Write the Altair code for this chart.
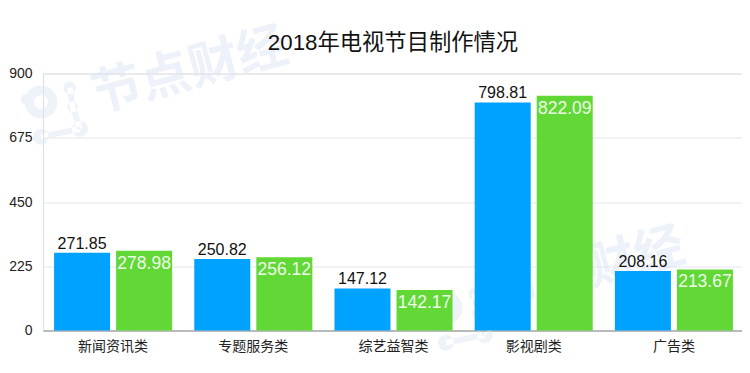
import altair as alt
import pandas as pd

categories = ["新闻资讯类", "专题服务类", "综艺益智类", "影视剧类", "广告类"]
blue_values = [271.85, 250.82, 147.12, 798.81, 208.16]
green_values = [278.98, 256.12, 142.17, 822.09, 213.67]
y_ticks = [0, 225, 450, 675, 900]
title_text = "2018年电视节目制作情况"
watermark_text = "节点财经"

FONT = "Liberation Sans, Noto Sans CJK SC"
rows = [{"cat": c, "s": "a", "v": v} for c, v in zip(categories, blue_values)] + \
       [{"cat": c, "s": "b", "v": v} for c, v in zip(categories, green_values)]
df = pd.DataFrame(rows)


def circ(cx, cy, r, hole=False):
    sweep = 0 if hole else 1
    return (f"M{cx - r:.3f},{cy:.3f}a{r:.3f},{r:.3f} 0 1,{sweep} {2 * r:.3f},0"
            f"a{r:.3f},{r:.3f} 0 1,{sweep} {-2 * r:.3f},0Z")


def link(x1, y1, x2, y2, w=0.09):
    dx, dy = x2 - x1, y2 - y1
    n = (dx * dx + dy * dy) ** 0.5
    px, py = -dy / n * w, dx / n * w
    return (f"M{x1 + px:.3f},{y1 + py:.3f}L{x2 + px:.3f},{y2 + py:.3f}"
            f"L{x2 - px:.3f},{y2 - py:.3f}L{x1 - px:.3f},{y1 - py:.3f}Z")


logo_path = " ".join([
    circ(-0.38, -0.3, 0.52), circ(-0.38, -0.3, 0.22, hole=True),
    circ(0.53, -0.75, 0.2), circ(0.62, -0.15, 0.17), circ(0.85, 0.55, 0.25),
    circ(-0.38, 0.8, 0.25), circ(-0.85, -0.38, 0.17),
    link(0.53, -0.75, 0.62, -0.15), link(0.62, -0.15, 0.85, 0.55), link(0.85, 0.55, -0.38, 0.8),
])

x = alt.X("cat:N", sort=categories, title=None,
          scale=alt.Scale(paddingInner=0.158, paddingOuter=0.079, round=False, range=[0, 701]),
          axis=alt.Axis(labelAngle=0, labelFontSize=14, labelColor="#222222", labelFont=FONT,
                        ticks=False, domainColor="#8a8a8a", domainWidth=1, labelPadding=9, grid=False))
off = alt.XOffset("s:N", scale=alt.Scale(domain=["a", "b"], paddingInner=0.097, round=False))
y = alt.Y("v:Q", title=None, scale=alt.Scale(domain=[0, 900], nice=False),
          axis=alt.Axis(values=y_ticks, labelFontSize=14, labelColor="#222222", labelFont=FONT,
                        ticks=False, domain=False, gridColor="#e4e6ea", gridWidth=1, labelPadding=11))

bars = alt.Chart(df).mark_bar().encode(
    x=x, xOffset=off, y=y,
    color=alt.Color("s:N", scale=alt.Scale(domain=["a", "b"], range=["#00A2FF", "#61D836"]), legend=None))

lab_a = alt.Chart(df[df.s == "a"]).mark_text(fontSize=16, font=FONT, color="#111111", baseline="bottom", dy=-1).encode(
    x=alt.X("cat:N", sort=categories), xOffset=off, y="v:Q", text=alt.Text("v:Q", format=".2f"))
lab_b = alt.Chart(df[df.s == "b"]).mark_text(fontSize=17.5, font=FONT, color="#eefbe8", baseline="top", dy=4).encode(
    x=alt.X("cat:N", sort=categories), xOffset=off, y="v:Q", text=alt.Text("v:Q", format=".2f"))

wm = pd.DataFrame({"t": [watermark_text]})
ttl = pd.DataFrame({"t": [title_text]})


def wm_text(px, py):
    return alt.Chart(wm).mark_text(fontSize=50, font="Noto Sans CJK SC", color="#dde5f4", opacity=0.5,
                                   angle=345, baseline="middle", fontWeight="bold").encode(
        x=alt.value(px), y=alt.value(py), text="t:N")


def wm_logo(px, py):
    return alt.Chart(wm).mark_point(shape=logo_path, filled=True, color="#dde5f4", opacity=0.5, size=4000, clip=False).encode(
        x=alt.value(px), y=alt.value(py))


title_mark = alt.Chart(ttl).mark_text(fontSize=22.3, font=FONT, color="#111111", baseline="alphabetic").encode(
    x=alt.value(350), y=alt.value(-24), text="t:N")

chart = alt.layer(wm_logo(10, 38), wm_logo(415, 244), wm_text(147, -2), wm_text(544, 198),
                  bars, lab_a, lab_b, title_mark).properties(
    width=699, height=257,
    padding={"left": 35, "top": 65.5, "right": 0, "bottom": 35},
    autosize=alt.AutoSizeParams(type="none"),
).configure_view(stroke=None).configure(background="#ffffff")

chart.save("out.html", embed_options={"renderer": "svg", "actions": False})
